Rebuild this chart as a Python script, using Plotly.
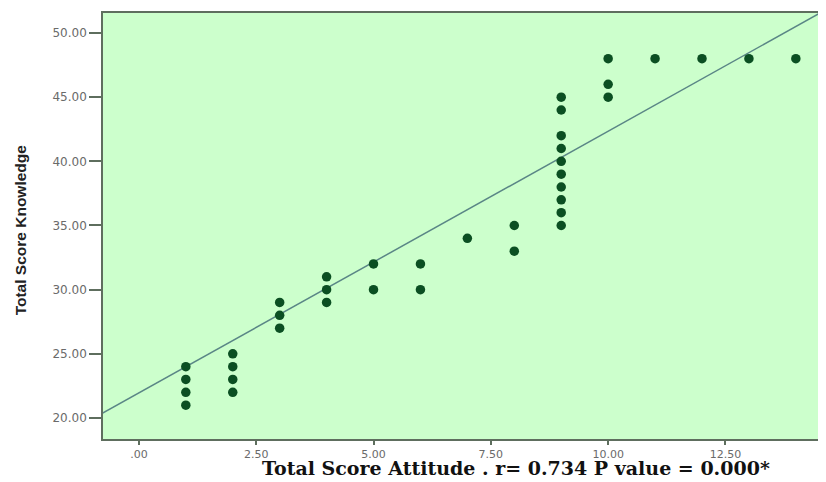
import plotly.graph_objects as go

# Scatter data: Total Score Attitude (x) vs Total Score Knowledge (y)
attitude = [1, 1, 1, 1,
            2, 2, 2, 2,
            3, 3, 3,
            4, 4, 4,
            5, 5,
            6, 6,
            7,
            8, 8,
            9, 9, 9, 9, 9, 9, 9, 9, 9, 9,
            10, 10, 10,
            11, 12, 13, 14]
knowledge = [21, 22, 23, 24,
             22, 23, 24, 25,
             27, 28, 29,
             29, 30, 31,
             30, 32,
             30, 32,
             34,
             33, 35,
             35, 36, 37, 38, 39, 40, 41, 42, 44, 45,
             45, 46, 48,
             48, 48, 48, 48]

# Fit line
fit_intercept = 21.95
fit_slope = 2.04
fit_x = [-0.8, 14.7]
fit_y = [fit_intercept + fit_slope * v for v in fit_x]

x_tickvals = [0, 2.5, 5, 7.5, 10, 12.5]
x_ticktext = [".00", "2.50", "5.00", "7.50", "10.00", "12.50"]
y_tickvals = [20, 25, 30, 35, 40, 45, 50]
y_ticktext = ["20.00", "25.00", "30.00", "35.00", "40.00", "45.00", "50.00"]

x_title = "Total Score Attitude . r= 0.734 P value = 0.000*"
y_title = "Total Score Knowledge"

fig = go.Figure()
fig.add_trace(go.Scatter(x=fit_x, y=fit_y, mode="lines",
                         line=dict(color="#5a8686", width=1.5),
                         hoverinfo="skip", showlegend=False))
fig.add_trace(go.Scatter(x=attitude, y=knowledge, mode="markers",
                         marker=dict(color="#0b4f22", size=9.5,
                                     line=dict(width=0)),
                         showlegend=False))

axis_common = dict(showline=True, mirror=True, linecolor="#5e6e5e", linewidth=1.5,
                   showgrid=False, zeroline=False, ticks="outside",
                   tickcolor="#5e6e5e", tickwidth=1.5)

# page body has an 8px margin; size the figure to fill the rest of the window
fig.update_layout(
    width=818, height=474,
    margin=dict(l=95, r=0, t=5, b=43),
    paper_bgcolor="white",
    plot_bgcolor="#ccffcc",
    xaxis=dict(range=[-0.765, 14.6], tickvals=x_tickvals, ticktext=x_ticktext,
               ticklen=4,
               tickfont=dict(family="DejaVu Sans, Verdana, sans-serif",
                             size=11, color="#6a6a6a"),
               **axis_common),
    yaxis=dict(range=[18.36, 51.56], tickvals=y_tickvals, ticktext=y_ticktext,
               ticklen=12,
               tickfont=dict(family="DejaVu Sans, Verdana, sans-serif",
                             size=12, color="#6a6a6a"),
               **axis_common),
    annotations=[
        dict(text="<b>" + x_title + "</b>", xref="paper", yref="paper",
             x=0.5726, y=-0.069, xanchor="center", yanchor="middle", showarrow=False,
             font=dict(family="DejaVu Serif, Times New Roman, serif", size=19,
                       color="#111111")),
        dict(text="<b>" + y_title + "</b>", xref="paper", yref="paper",
             x=-0.115, y=0.49, xanchor="center", yanchor="middle", showarrow=False,
             textangle=-90,
             font=dict(family="Liberation Sans Narrow, Arial Narrow, sans-serif", size=15.5,
                       color="#222222")),
    ],
)

fig.write_html("out.html")
